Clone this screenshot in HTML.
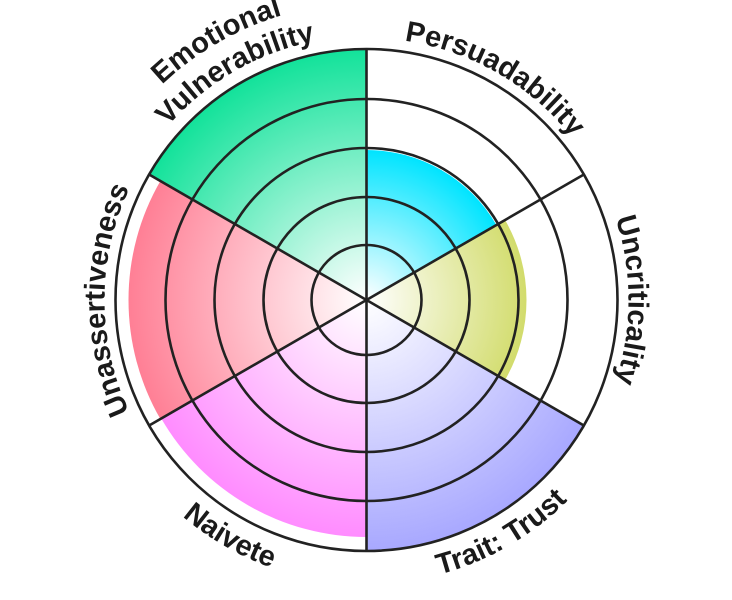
<!DOCTYPE html>
<html><head><meta charset="utf-8"><style>
html,body{margin:0;padding:0;background:#fff;}
svg{display:block;}
text{font-family:"Liberation Sans",sans-serif;font-weight:bold;font-size:29px;fill:#1a1a1a;}
</style></head><body>
<svg id="s" width="732" height="600" viewBox="0 0 732 600" xmlns="http://www.w3.org/2000/svg"></svg>
<script>
const cx=366.5,cy=300,NS="http://www.w3.org/2000/svg";
const s=document.getElementById('s');
function P(r,a){a=a*Math.PI/180;return [cx+r*Math.sin(a),cy-r*Math.cos(a)];}
let h='<defs>';
const sec=[[0,150,'#00e4ff'],[60,160,'#d2dc6c'],[120,251,'#a8a8ff'],[180,237,'#ff8cff'],[240,238,'#ff7f95'],[300,251,'#12e29a']];
sec.forEach((d,i)=>{h+=`<radialGradient id="g${i}" gradientUnits="userSpaceOnUse" cx="${cx}" cy="${cy}" r="${d[1]}"><stop offset="0" stop-color="#fff"/><stop offset="1" stop-color="${d[2]}"/></radialGradient>`;});
function arc(id,r,a1,a2,sw){const p=P(r,a1),q=P(r,a2);return `<path id="${id}" d="M${p[0]},${p[1]} A${r},${r} 0 0 ${sw} ${q[0]},${q[1]}" fill="none"/>`;}
h+=arc('l0',262,-30,90,1)+arc('l1',262,30,150,1)+arc('l2',284,210,90,0)+arc('l3',284,270,150,0)+arc('l4',262,210,330,1)+arc('l5',264,270,390,1)+arc('l6',297,270,390,1);
h+='</defs>';
sec.forEach((d,i)=>{const p=P(d[1],d[0]),q=P(d[1],d[0]+60);h+=`<path d="M${cx},${cy} L${p[0]},${p[1]} A${d[1]},${d[1]} 0 0 1 ${q[0]},${q[1]} Z" fill="url(#g${i})"/>`;});
[55,103,152,201,251].forEach(r=>{h+=`<circle cx="${cx}" cy="${cy}" r="${r}" fill="none" stroke="#222" stroke-width="2.6"/>`;});
for(let a=0;a<360;a+=60){const p=P(251,a);h+=`<line x1="${cx}" y1="${cy}" x2="${p[0]}" y2="${p[1]}" stroke="#222" stroke-width="2.6"/>`;}
const L=[['l0','Persuadability'],['l1','Uncriticality'],['l2','Trait: Trust'],['l3','Naivete'],['l4','Unassertiveness'],['l5','Vulnerability'],['l6','Emotional']];
L.forEach(d=>{h+=`<text><textPath href="#${d[0]}" startOffset="50%" text-anchor="middle">${d[1]}</textPath></text>`;});
s.innerHTML=h;
</script>
</body></html>
